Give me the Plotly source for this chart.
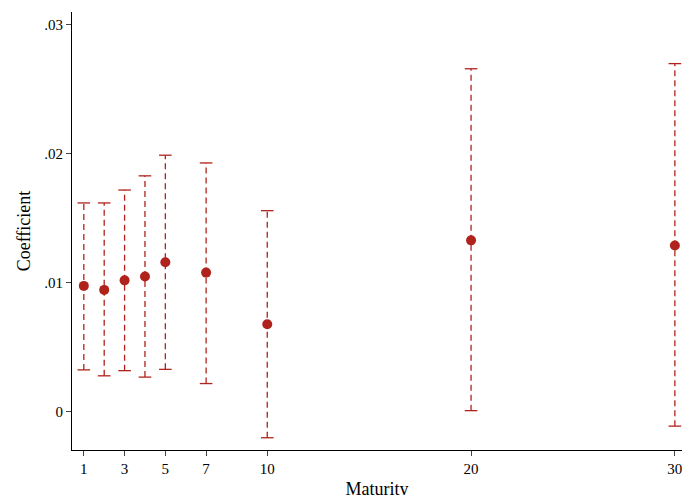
import plotly.graph_objects as go

maturity = [1, 2, 3, 4, 5, 7, 10, 20, 30]
coef = [0.00977, 0.00946, 0.0102, 0.0105, 0.0116, 0.0108, 0.0068, 0.0133, 0.0129]
ci_low = [0.00326, 0.0028, 0.0032, 0.0027, 0.0033, 0.0022, -0.0020, 0.0001, -0.0011]
ci_high = [0.0162, 0.0162, 0.0172, 0.0183, 0.0199, 0.0193, 0.0156, 0.0266, 0.0270]

red = "#b0231c"
fig = go.Figure()

# dashed CI lines
xs, ys = [], []
for m, lo, hi in zip(maturity, ci_low, ci_high):
    xs += [m, m, None]
    ys += [lo, hi, None]
fig.add_trace(go.Scatter(x=xs, y=ys, mode="lines",
                         line=dict(color=red, width=1.3, dash="6px,4px"), hoverinfo="skip"))
# caps
fig.add_trace(go.Scatter(x=maturity + maturity, y=ci_low + ci_high, mode="markers",
                         marker=dict(symbol="line-ew", size=9, line=dict(color=red, width=1.3)),
                         hoverinfo="skip"))
# point estimates
fig.add_trace(go.Scatter(x=maturity, y=coef, mode="markers",
                         marker=dict(color=red, size=10)))

fig.update_layout(
    width=692, height=495, showlegend=False,
    plot_bgcolor="white", paper_bgcolor="white",
    margin=dict(l=64, r=18, t=4, b=53),
    font=dict(family="Liberation Serif", size=15, color="black"),
)
fig.update_xaxes(range=[0.42, 30.35], tickvals=[1, 3, 5, 7, 10, 20, 30],
                 showgrid=False, zeroline=False, showline=True, linecolor="black",
                 ticks="outside", ticklen=5, automargin=False,
                 title=dict(text="Maturity", standoff=6))
fig.update_yaxes(range=[-0.00295, 0.031], tickvals=[0, 0.01, 0.02, 0.03],
                 ticktext=["0", ".01", ".02", ".03"],
                 showgrid=False, zeroline=False, showline=True, linecolor="black",
                 ticks="outside", ticklen=5, automargin=False,
                 title=dict(text="Coefficient", standoff=8))

fig.write_html("out.html")
